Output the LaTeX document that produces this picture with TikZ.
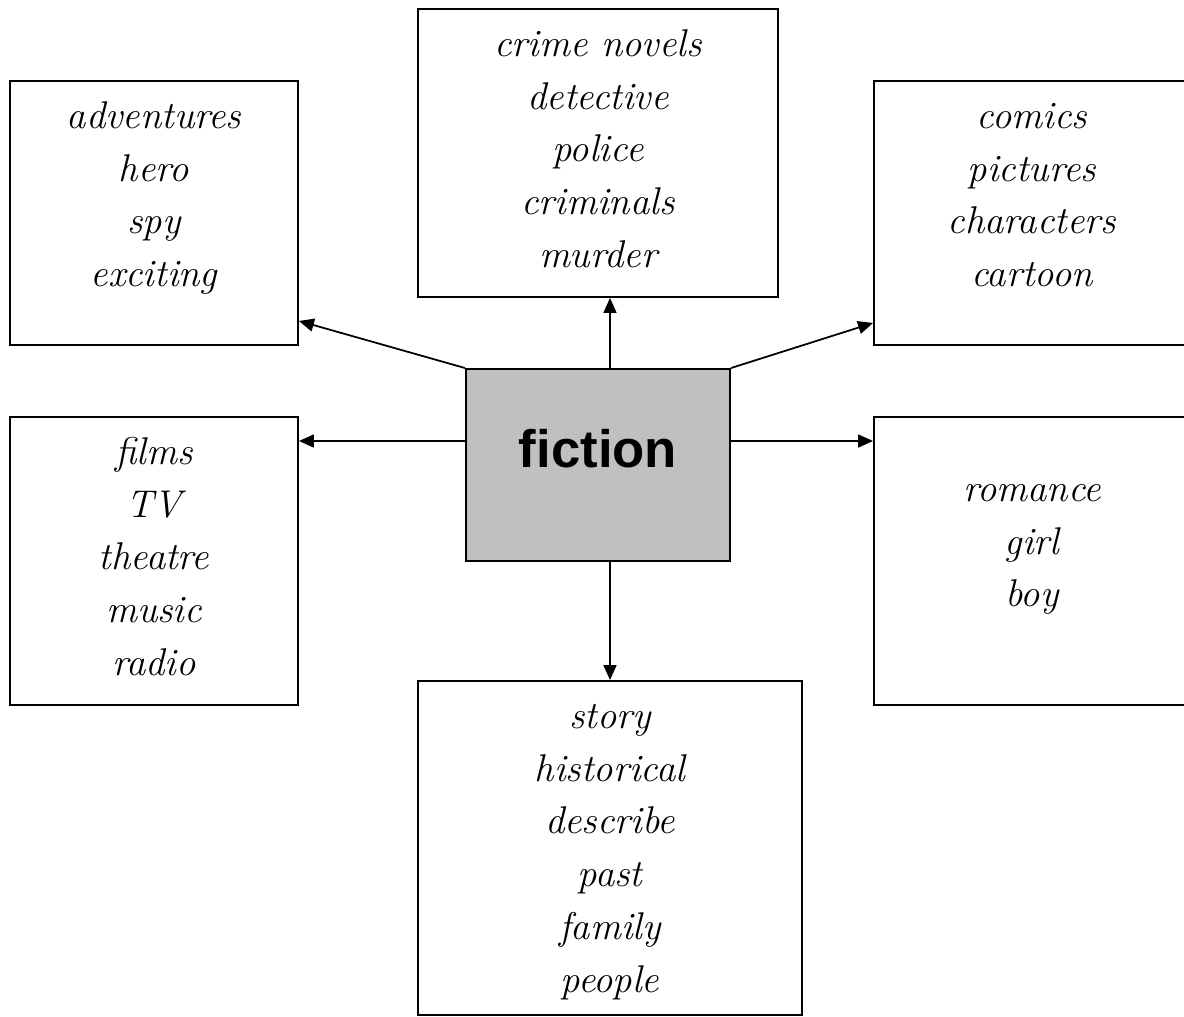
\documentclass[tikz,border=0pt]{standalone}
\usepackage{fontspec}
\setsansfont{Liberation Sans}
\usetikzlibrary{arrows.meta}
\definecolor{boxgray}{HTML}{C0C0C0}
\newcommand{\wordlist}[4]{\parbox[c][#1][t]{#2}{\centering\fontsize{22}{30}\selectfont\itshape\rule{0pt}{#3}#4}}

\begin{document}
\begin{tikzpicture}[x=0.02cm,y=-0.02cm,>={Triangle[length=3mm,width=2.6mm]},
    wordbox/.style={draw,line width=1.1pt,inner sep=0pt},
    link/.style={->,line width=1pt}]
      \useasboundingbox (0,0) rectangle (1184,1017);
      \clip (0,0) rectangle (1184,1017);

      \node[wordbox,fill=boxgray,minimum width=5.28cm,minimum height=3.84cm,
        text height=0.9cm,text depth=0.82cm,
        font=\fontsize{30}{36}\selectfont\sffamily\bfseries] (fiction) at (598,465) {fiction};

      \node[wordbox] (adventures) at (154,213) {\wordlist{5.28cm}{5.76cm}{27pt}{adventures\\hero\\spy\\exciting}};
      \node[wordbox] (crime) at (598,153) {\wordlist{5.76cm}{7.2cm}{27pt}{crime novels\\detective\\police\\criminals\\murder}};
      \node[wordbox] (comics) at (1032,213) {\wordlist{5.28cm}{6.32cm}{27pt}{comics\\pictures\\characters\\cartoon}};
      \node[wordbox] (films) at (154,561) {\wordlist{5.76cm}{5.76cm}{27pt}{films\\TV\\theatre\\music\\radio}};
      \node[wordbox] (romance) at (1032,561) {\wordlist{5.76cm}{6.32cm}{48pt}{romance\\girl\\boy}};
      \node[wordbox] (story) at (610,848) {\wordlist{6.68cm}{7.68cm}{27pt}{story\\historical\\describe\\past\\family\\people}};

      \draw[link] (fiction.north west) -- ([yshift=0.5cm]adventures.south east);
      \draw[link] (story.north |- fiction.north) -- (story.north |- crime.south);
      \draw[link] (fiction.north east) -- ([yshift=0.46cm]comics.south west);
      \draw[link] ([yshift=0.48cm]fiction.west) -- ([yshift=0.48cm]fiction.west -| films.east);
      \draw[link] ([yshift=0.48cm]fiction.east) -- ([yshift=0.48cm]fiction.east -| romance.west);
      \draw[link] (story.north |- fiction.south) -- (story.north);
\end{tikzpicture}
\end{document}
